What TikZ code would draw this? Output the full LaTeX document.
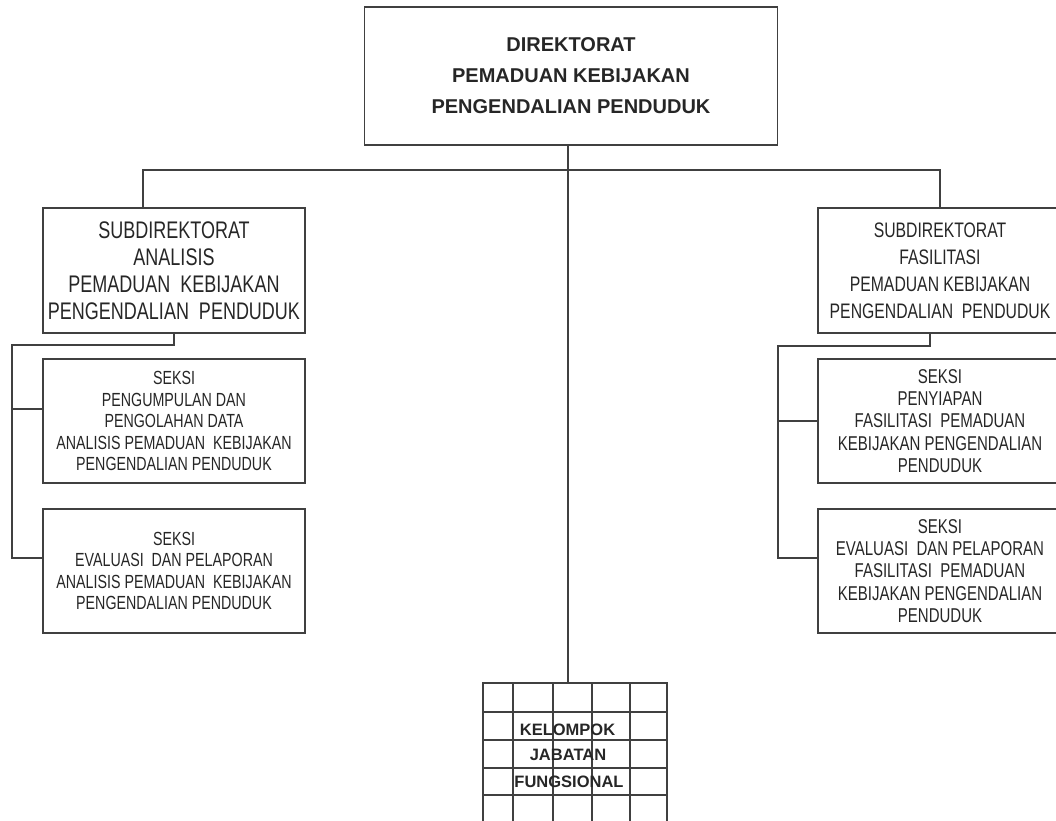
\documentclass[tikz,border=0pt]{standalone}
\usepackage{fontspec}
\setmainfont{Liberation Sans}
\newfontfamily\narrowsf[FakeStretch=0.75]{Liberation Sans}
\begin{document}
\begin{tikzpicture}[x=1pt,y=-1pt,
  line/.style={draw=black!75,line width=1.2pt},
  box/.style={line,rectangle,inner sep=0pt,align=center,text=black!85},
  headbox/.style={box,minimum width=413pt,minimum height=138pt,
    font=\bfseries\fontsize{20}{31}\selectfont},
  subleft/.style={box,minimum width=262pt,minimum height=125pt,
    font=\narrowsf\fontsize{24}{27}\selectfont},
  subright/.style={box,minimum width=244pt,minimum height=125pt,
    font=\narrowsf\fontsize{21}{27}\selectfont},
  secleft/.style={box,minimum width=262pt,minimum height=124pt,
    font=\narrowsf\fontsize{19}{21.5}\selectfont},
  secright/.style={box,minimum width=244pt,minimum height=124pt,
    font=\narrowsf\fontsize{20}{22.2}\selectfont},
  gridtxt/.style={inner sep=0.8pt,text=black!85,
    font=\bfseries\fontsize{16.5}{18}\selectfont}
]
\useasboundingbox (0,0) rectangle (1056,820);
\clip (0,0) rectangle (1056,820);

% directorate
\node[headbox] (dir) at (571,76)
  {DIREKTORAT\\PEMADUAN KEBIJAKAN\\PENGENDALIAN PENDUDUK};

% sub-directorates
\node[subleft] (subL) at (174,270.5)
  {SUBDIREKTORAT\\ANALISIS\\PEMADUAN~ KEBIJAKAN\\PENGENDALIAN~ PENDUDUK};
\node[subright] (subR) at (940,270.5)
  {SUBDIREKTORAT\\FASILITASI\\PEMADUAN KEBIJAKAN\\PENGENDALIAN~ PENDUDUK};

% sections, left
\node[secleft] (sekL1) at (174,421)
  {SEKSI\\PENGUMPULAN DAN\\PENGOLAHAN DATA\\ANALISIS PEMADUAN~ KEBIJAKAN\\PENGENDALIAN PENDUDUK};
\node[secleft] (sekL2) at (174,571)
  {SEKSI\\EVALUASI~ DAN PELAPORAN\\ANALISIS PEMADUAN~ KEBIJAKAN\\PENGENDALIAN PENDUDUK};

% sections, right
\node[secright] (sekR1) at (940,421)
  {SEKSI\\PENYIAPAN\\FASILITASI~ PEMADUAN\\KEBIJAKAN PENGENDALIAN\\PENDUDUK};
\node[secright] (sekR2) at (940,571)
  {SEKSI\\EVALUASI~ DAN PELAPORAN\\FASILITASI~ PEMADUAN\\KEBIJAKAN PENGENDALIAN\\PENDUDUK};

% functional group (grid box)
\node[line,rectangle,minimum width=184pt,minimum height=141pt,inner sep=0pt]
  (grid) at (575,753.5) {};
\foreach \x in {513,553,592,630} \draw[line] (\x,683) -- (\x,824);
\foreach \y in {712,740,768,795} \draw[line] (483,\y) -- (667,\y);
\node[gridtxt] (g1) at (567.5,730) {KELOMPOK};
\node[gridtxt] (g2) at (568,755) {JABATAN};
\node[gridtxt] (g3) at (569,782) {FUNGSIONAL};

% connectors
\coordinate (stem) at (568,0);
\coordinate (busL) at (143,170);
\coordinate (busR) at (940,170);
\draw[line] (dir.south -| stem) -- (grid.north -| stem);
\draw[line] (subL.north -| busL) |- (busR) -- (subR.north -| busR);

\coordinate (trunkL) at (12,345);
\coordinate (tapL1) at (12,409);
\coordinate (tapL2) at (12,558);
\draw[line] (subL.south) |- (trunkL) -- (tapL2) -- (tapL2 -| sekL2.west);
\draw[line] (tapL1) -- (tapL1 -| sekL1.west);

\coordinate (dropR) at (930,0);
\coordinate (trunkR) at (778,346);
\coordinate (tapR1) at (778,421);
\coordinate (tapR2) at (778,558);
\draw[line] (subR.south -| dropR) |- (trunkR) -- (tapR2) -- (tapR2 -| sekR2.west);
\draw[line] (tapR1) -- (tapR1 -| sekR1.west);
\end{tikzpicture}
\end{document}
